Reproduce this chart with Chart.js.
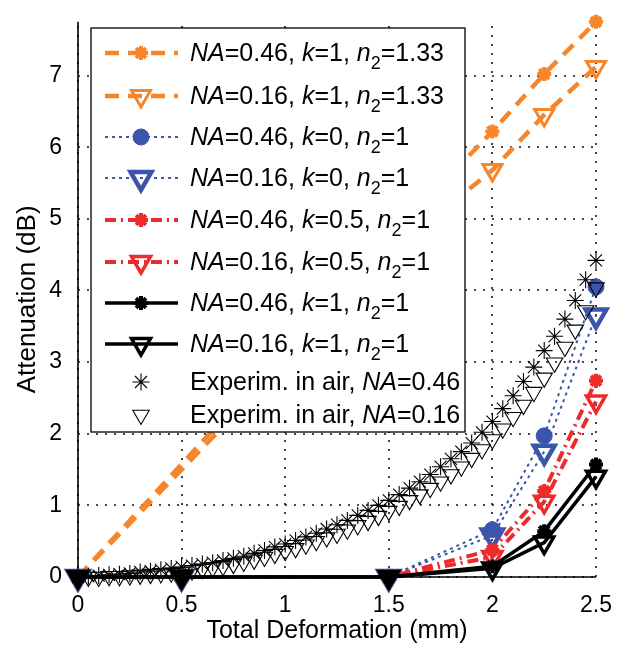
<!DOCTYPE html>
<html>
<head>
<meta charset="utf-8">
<script src="https://cdn.jsdelivr.net/npm/chart.js@4.4.1/dist/chart.umd.min.js"></script>
<style>
  html, body { margin: 0; padding: 0; background: #fff; }
</style>
</head>
<body>
<canvas id="attChart" width="621" height="646"></canvas>
<script>
// simulated curves (total deformation, mm)
var simX = [0, 0.5, 1.5, 2, 2.25, 2.5];
var orangeX = [0, 1, 1.5, 2, 2.25, 2.5];
var orange046 = [0, 3.15, 4.72, 6.22, 7.02, 7.75];
var orange016 = [0, 3.0, 4.50, 5.68, 6.45, 7.12];
var blue046 = [0, 0, 0, 0.66, 1.97, 4.05];
var blue016 = [0, 0, 0, 0.58, 1.75, 3.65];
var red046 = [0, 0, 0, 0.38, 1.20, 2.74];
var red016 = [0, 0, 0, 0.28, 1.05, 2.45];
var black046 = [0, 0, 0, 0.15, 0.64, 1.57];
var black016 = [0, 0, 0, 0.12, 0.48, 1.40];

// measured in air
var expX = [0, 0.05, 0.1, 0.15, 0.2, 0.25, 0.3, 0.35, 0.4, 0.45, 0.5, 0.55, 0.6, 0.65, 0.7, 0.75, 0.8, 0.85, 0.9, 0.95,
  1, 1.05, 1.1, 1.15, 1.2, 1.25, 1.3, 1.35, 1.4, 1.45, 1.5, 1.55, 1.6, 1.65, 1.7, 1.75, 1.8, 1.85, 1.9, 1.95,
  2, 2.05, 2.1, 2.15, 2.2, 2.25, 2.3, 2.35, 2.4, 2.45, 2.5];
var exp046 = [0, 0.01, 0.02, 0.03, 0.04, 0.05, 0.07, 0.08, 0.10, 0.12, 0.14, 0.16, 0.18, 0.20, 0.23, 0.26, 0.29, 0.33, 0.37, 0.42,
  0.46, 0.51, 0.56, 0.61, 0.67, 0.73, 0.79, 0.86, 0.93, 1.00, 1.07, 1.15, 1.24, 1.33, 1.43, 1.54, 1.65, 1.75, 1.87, 2.02,
  2.17, 2.35, 2.53, 2.73, 2.93, 3.16, 3.36, 3.60, 3.86, 4.15, 4.42];
var exp016 = [0, 0, 0, 0.01, 0.01, 0.02, 0.03, 0.04, 0.05, 0.06, 0.07, 0.09, 0.11, 0.13, 0.15, 0.18, 0.21, 0.24, 0.28, 0.32,
  0.36, 0.40, 0.45, 0.50, 0.55, 0.60, 0.66, 0.72, 0.78, 0.85, 0.92, 0.99, 1.07, 1.15, 1.24, 1.33, 1.43, 1.54, 1.66, 1.78,
  1.92, 2.07, 2.23, 2.40, 2.58, 2.78, 2.99, 3.21, 3.45, 3.72, 4.04];

// legend parameters
var naVals = ['0.46', '0.16', '0.46', '0.16', '0.46', '0.16', '0.46', '0.16'];
var kVals = ['1', '1', '0', '0', '0.5', '0.5', '1', '1'];
var n2Vals = ['1.33', '1.33', '1', '1', '1', '1', '1', '1'];
var expNA = ['0.46', '0.16'];

var xTicks = [0, 0.5, 1, 1.5, 2, 2.5];
var yTicks = [0, 1, 2, 3, 4, 5, 6, 7];

var colors = {
  orange: '#F7862B',
  blue: '#3A55AB',
  red: '#EE2B2B',
  black: '#000000'
};
var FONT = '"Liberation Sans", Arial, sans-serif';

function pts(xs, ys) {
  return xs.map(function(x, i) { return { x: x, y: ys[i] }; });
}

var clear = 'rgba(0,0,0,0)';
var styles = [
  { c: colors.orange, dash: [14, 9], lw: 4.5, ps: 'star', r: 7, bw: 4, bg: colors.orange },
  { c: colors.orange, dash: [14, 9], lw: 4.5, ps: 'triangle', r: 11, bw: 3, bg: clear },
  { c: colors.blue, dash: [3, 4], lw: 2, ps: 'circle', r: 8, bw: 1, bg: colors.blue },
  { c: colors.blue, dash: [3, 4], lw: 2, ps: 'triangle', r: 12, bw: 4.5, bg: clear },
  { c: colors.red, dash: [11, 5, 2, 5], lw: 4, ps: 'star', r: 7, bw: 4, bg: colors.red },
  { c: colors.red, dash: [11, 5, 2, 5], lw: 4, ps: 'triangle', r: 11, bw: 3.5, bg: clear },
  { c: colors.black, dash: [], lw: 3.5, ps: 'star', r: 7, bw: 4, bg: colors.black },
  { c: colors.black, dash: [], lw: 3.5, ps: 'triangle', r: 11, bw: 3.5, bg: clear },
  { c: colors.black, dash: [], lw: 0, ps: 'star', r: 8.5, bw: 1.1, bg: clear },
  { c: colors.black, dash: [], lw: 0, ps: 'triangle', r: 9.5, bw: 1.1, bg: clear }
];

var simSeries = [orange046, orange016, blue046, blue016, red046, red016, black046, black016];
var datasets = simSeries.map(function(ys, i) {
  var s = styles[i];
  return {
    data: pts(i < 2 ? orangeX : simX, ys),
    showLine: true,
    borderColor: s.c,
    borderWidth: s.lw,
    borderDash: s.dash,
    pointStyle: s.ps,
    pointRadius: s.r,
    pointBorderWidth: s.bw,
    pointBorderColor: s.c,
    pointBackgroundColor: (i === 7) ? function(ctx) { return ctx.raw && ctx.raw.y === 0 ? '#000' : clear; } : s.bg,
    pointRotation: s.ps === 'triangle' ? 180 : 0,
    order: 9 - i,
    clip: false
  };
});
[exp046, exp016].forEach(function(ys, j) {
  var s = styles[8 + j];
  datasets.push({
    data: pts(expX, ys),
    showLine: false,
    pointStyle: s.ps,
    pointRadius: s.r,
    pointBorderWidth: s.bw,
    pointBorderColor: s.c,
    pointBackgroundColor: s.bg,
    pointRotation: s.ps === 'triangle' ? 180 : 0,
    order: 1 - j,
    clip: false
  });
});

function legendParts(i) {
  if (i < 8) {
    return [
      { t: 'NA', it: true }, { t: '=' + naVals[i] + ', ' },
      { t: 'k', it: true }, { t: '=' + kVals[i] + ', ' },
      { t: 'n', it: true }, { t: '2', sub: true }, { t: '=' + n2Vals[i] }
    ];
  }
  return [{ t: 'Experim. in air, ' }, { t: 'NA', it: true }, { t: '=' + expNA[i - 8] }];
}

// dotted grid + solid left/bottom axes, under the data
var gridPlugin = {
  id: 'dotGrid',
  beforeDatasetsDraw: function(chart) {
    var ctx = chart.ctx, a = chart.chartArea;
    var xs = chart.scales.x, ys = chart.scales.y;
    ctx.save();
    ctx.strokeStyle = '#111';
    ctx.lineWidth = 1.6;
    ctx.setLineDash([2, 7]);
    xTicks.forEach(function(v) {
      var px = Math.round(xs.getPixelForValue(v));
      ctx.beginPath(); ctx.moveTo(px, a.bottom); ctx.lineTo(px, a.top); ctx.stroke();
    });
    yTicks.forEach(function(v) {
      var py = Math.round(ys.getPixelForValue(v));
      ctx.beginPath(); ctx.moveTo(a.left, py); ctx.lineTo(a.right, py); ctx.stroke();
    });
    ctx.setLineDash([]);
    ctx.strokeStyle = '#000';
    ctx.lineWidth = 1.6;
    ctx.beginPath();
    ctx.moveTo(a.left, a.top); ctx.lineTo(a.left, a.bottom); ctx.lineTo(a.right, a.bottom);
    ctx.stroke();
    ctx.restore();
  }
};

var legendPlugin = {
  id: 'boxLegend',
  afterDraw: function(chart) {
    var ctx = chart.ctx;
    var box = { x: 91, y: 28, w: 374, h: 404 };
    var rows = [53, 96, 137, 178, 220, 262, 303, 344, 382, 415];
    ctx.save();
    ctx.fillStyle = '#fff';
    ctx.fillRect(box.x, box.y, box.w, box.h);
    ctx.lineWidth = 1.3;
    ctx.strokeStyle = '#000';
    ctx.strokeRect(box.x, box.y, box.w, box.h);
    rows.forEach(function(y, i) {
      var s = styles[i];
      if (s.lw > 0) {
        ctx.save();
        ctx.strokeStyle = s.c;
        ctx.lineWidth = s.lw;
        ctx.setLineDash(s.dash);
        ctx.beginPath();
        ctx.moveTo(105, y);
        ctx.lineTo(178, y);
        ctx.stroke();
        ctx.restore();
      }
      ctx.save();
      ctx.setLineDash([]);
      ctx.strokeStyle = s.c;
      ctx.fillStyle = s.bg;
      ctx.lineWidth = s.bw;
      Chart.helpers.drawPoint(ctx, {
        pointStyle: s.ps, radius: s.r, borderWidth: s.bw,
        rotation: s.ps === 'triangle' ? 180 : 0
      }, 141, y);
      ctx.restore();
      var x = 190;
      ctx.fillStyle = '#000';
      ctx.textBaseline = 'alphabetic';
      legendParts(i).forEach(function(p) {
        var size = p.sub ? 18 : 25;
        ctx.font = (p.it ? 'italic ' : '') + size + 'px ' + FONT;
        ctx.fillText(p.t, x, y + 8 + (p.sub ? 8 : 0));
        x += ctx.measureText(p.t).width;
      });
    });
    ctx.restore();
  }
};

var ctx = document.getElementById('attChart').getContext('2d');
new Chart(ctx, {
  type: 'scatter',
  data: { datasets: datasets },
  options: {
    responsive: false,
    animation: false,
    events: [],
    layout: { padding: { left: 0, right: 25, top: 15, bottom: 0 } },
    plugins: { legend: { display: false }, tooltip: { enabled: false } },
    scales: {
      x: {
        type: 'linear',
        min: 0, max: 2.5,
        afterFit: function(s) { s.height = 69; },
        afterBuildTicks: function(s) { s.ticks = xTicks.map(function(v) { return { value: v }; }); },
        ticks: {
          color: '#000', font: { family: FONT, size: 23 }, padding: 7,
          maxRotation: 0,
          callback: function(v) { return String(v); }
        },
        grid: { display: false },
        border: { display: false },
        title: {
          display: true, text: 'Total Deformation (mm)', color: '#000',
          font: { family: FONT, size: 25 }, padding: { top: 0, bottom: 0 }
        }
      },
      y: {
        type: 'linear',
        min: 0, max: 7.75,
        afterFit: function(s) { s.width = 78; },
        afterBuildTicks: function(s) { s.ticks = yTicks.map(function(v) { return { value: v }; }); },
        ticks: {
          color: '#000', font: { family: FONT, size: 23 }, padding: 8,
          callback: function(v) { return String(v); }
        },
        grid: { display: false },
        border: { display: false },
        title: {
          display: true, text: 'Attenuation (dB)', color: '#000',
          font: { family: FONT, size: 26 }, padding: { top: 12, bottom: 0 }
        }
      }
    }
  },
  plugins: [gridPlugin, legendPlugin]
});
</script>
</body>
</html>
